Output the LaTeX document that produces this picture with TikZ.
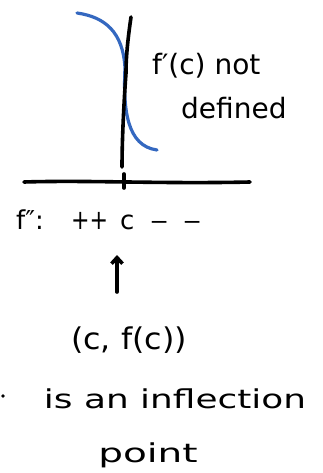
\documentclass[tikz,border=0pt]{standalone}
\usepackage{fontspec}
\setmainfont{DejaVu Sans}
\usetikzlibrary{arrows.meta}
\definecolor{curveblue}{RGB}{52,104,192}
\tikzset{
  ink/.style={line width=3.6pt, line cap=round, line join=round, black},
  bluecurve/.style={line width=3.2pt, line cap=round, curveblue},
  handbig/.style={inner sep=0pt, font=\fontsize{28}{32}\selectfont},
  hand/.style={inner sep=0pt, font=\fontsize{26}{30}\selectfont},
}
\begin{document}
\begin{tikzpicture}[x=1pt,y=-1pt]
\useasboundingbox (0,0) rectangle (322,473);
% blue curve
\draw[bluecurve] (77,13) .. controls (105,17) and (123,32) .. (125,68)
  .. controls (123,110) and (127,146) .. (157,150);
% vertical line
\coordinate (vtop) at (131,17);
\coordinate (vbot) at (122,167);
\draw[ink] (vtop) .. controls (127,45) and (126,60) .. (126,73)
  .. controls (124,100) and (122,140) .. (vbot);
% horizontal axis
\coordinate (aleft) at (24,182);
\coordinate (aright) at (250,182);
\draw[ink] (aleft) .. controls (90,180) and (160,184) .. (aright);
\coordinate (ttop) at (124,174);
\coordinate (tbot) at (124,188);
\draw[ink] (ttop) -- (tbot);
% labels
\node[handbig, anchor=base west] (fp) at (152,75) {f′(c) not};
\node[handbig, anchor=base west] (def) at (181,119) {defined};
\node[hand, anchor=base west] (fpp) at (16,229)
  {\makebox[55pt][l]{f″:}\makebox[49pt][l]{\scalebox{0.85}[1.05]{++}}\makebox[30pt][l]{c}\makebox[33pt][l]{\scalebox{1.4}[1]{–}}\scalebox{1.4}[1]{–}};
\node[hand, anchor=base] (pt) at (129,349) {\scalebox{1.22}[1.15]{(c, f(c))}};
\node[hand, anchor=base] (is) at (175,408) {\scalebox{1.38}[1]{is an inflection}};
\node[hand, anchor=base] (point) at (148,462) {\scalebox{1.5}[1]{point}};
% arrow
\coordinate (arrtop) at (117,255);
\coordinate (arrbot) at (117,292);
\draw[ink, -{Straight Barb[length=6pt,width=11pt]}] (arrbot) -- (arrtop);
% stray dot
\fill (3,396) circle (1.8pt);
\end{tikzpicture}
\end{document}
